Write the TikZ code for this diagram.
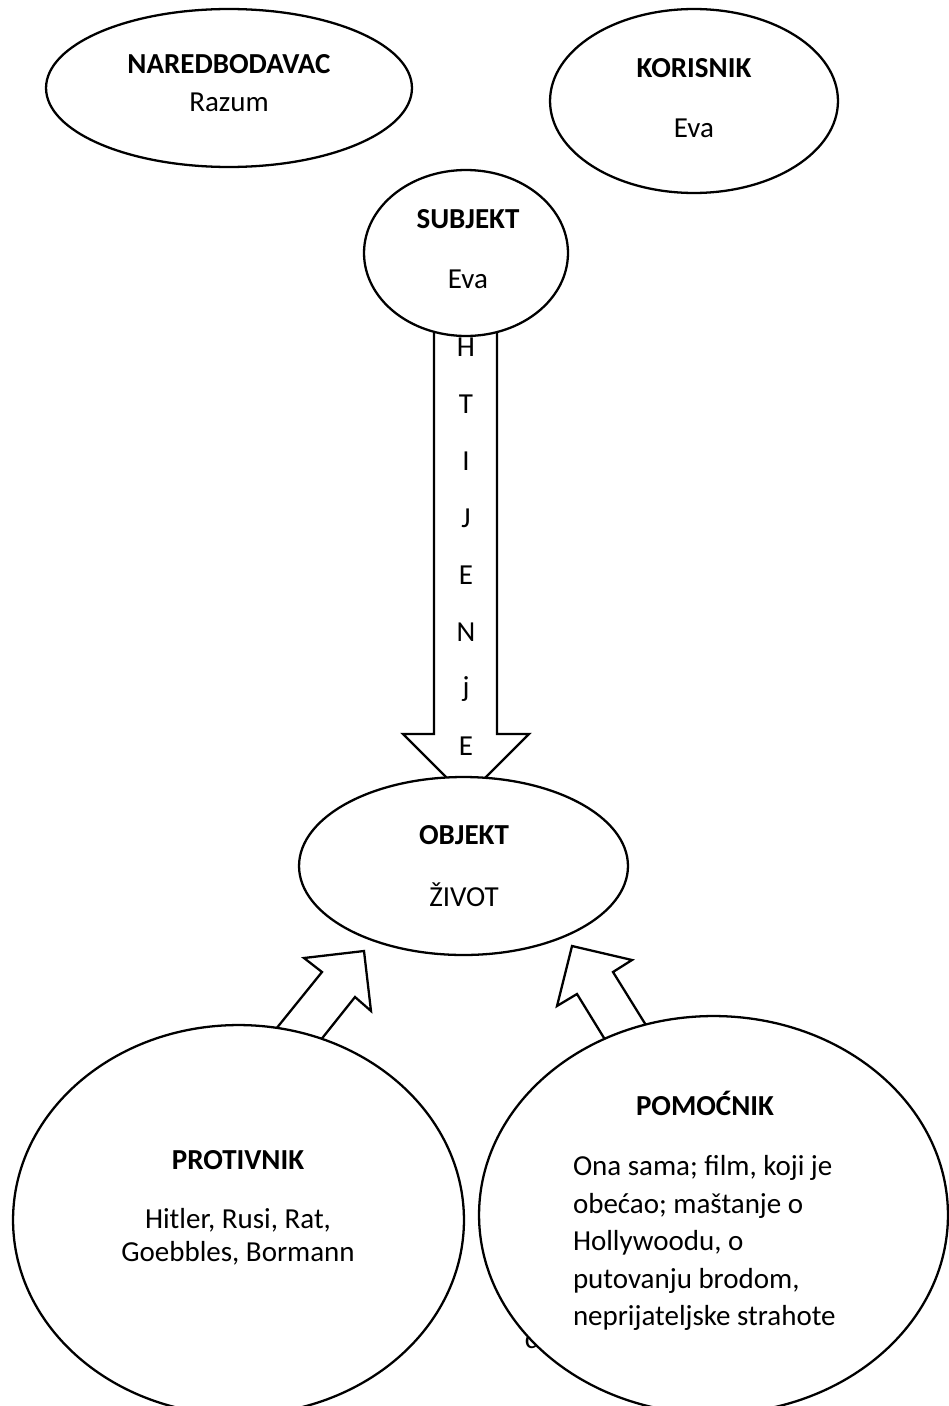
\documentclass[tikz,border=0pt]{standalone}
\usepackage{fontspec}
\setmainfont{Carlito}
\usetikzlibrary{shapes.geometric}
\usetikzlibrary{calc}

\begin{document}
\begin{tikzpicture}[
        x=0.02cm, y=-0.02cm,
        line width=1.3pt,
        actant/.style={draw, fill=white, ellipse, inner sep=0pt},
        titula/.style={font=\fontsize{16.5}{20}\selectfont\bfseries},
        ime/.style={font=\fontsize{16.5}{20}\selectfont},
        blok/.style={draw, fill=white, line join=miter},
    ]

    \useasboundingbox (0, 0) rectangle (948, 1406);

    % strelice
    \draw[blok] (434, 300) -- (434, 734) -- (403, 734) -- (466, 797)
        -- (529, 734) -- (497, 734) -- (497, 300) -- cycle;
    \draw[blok] (259, 1050) -- (322, 972) -- (304, 958) -- (364, 951)
        -- (371, 1011) -- (355, 997) -- (304, 1061) -- cycle;
    \draw[blok] (620, 1064) -- (577, 994) -- (557, 1006) -- (572, 946)
        -- (632, 960) -- (613, 972) -- (662, 1051) -- cycle;

    \foreach \slovo [count=\i from 0] in {H, T, I, J, E, N, j, E}
        \node[ime] (htijenje-\i) at (466, {347 + 57*\i}) {\slovo};

    \node[ime] (ostatak) at (531, 1342) {c};

    % aktanti
    \node[actant, minimum width=7.32cm, minimum height=3.16cm] (naredbodavac) at (229, 88) {};
    \node[actant, minimum width=5.76cm, minimum height=3.68cm] (korisnik) at (694, 101) {};
    \node[actant, minimum width=4.08cm, minimum height=3.32cm] (subjekt) at (466, 253) {};
    \node[actant, minimum width=6.58cm, minimum height=3.56cm] (objekt) at (463.5, 866) {};
    \node[actant, minimum width=9.02cm, minimum height=7.8cm] (protivnik) at (238.5, 1220) {};
    \node[actant, minimum width=9.38cm, minimum height=7.96cm] (pomocnik) at (713.5, 1215) {};

    \node[titula] (naredbodavac-t) at (229, 64) {NAREDBODAVAC};
    \node[ime] (naredbodavac-i) at (229, 102) {Razum};
    \node[titula] (korisnik-t) at (694, 68) {KORISNIK};
    \node[ime] (korisnik-i) at (694, 128) {Eva};
    \node[titula] (subjekt-t) at (468, 219) {SUBJEKT};
    \node[ime] (subjekt-i) at (468, 279) {Eva};
    \node[titula] (objekt-t) at (464, 835) {OBJEKT};
    \node[ime] (objekt-i) at (464, 895) {ŽIVOT};
    \node[titula] (protivnik-t) at (238, 1160) {PROTIVNIK};
    \node[ime, align=center, font=\fontsize{16.5}{18.8}\selectfont] (protivnik-i) at (238, 1237)
        {Hitler, Rusi, Rat,\\Goebbles, Bormann};
    \node[titula] (pomocnik-t) at (705, 1103) {POMOĆNIK};
    \node[ime, align=left, anchor=west, font=\fontsize{16.5}{21.3}\selectfont] (pomocnik-i) at (566, 1243)
        {Ona sama; film, koji je\\obećao; maštanje o\\Hollywoodu, o\\putovanju brodom,\\neprijateljske strahote};

\end{tikzpicture}
\end{document}
